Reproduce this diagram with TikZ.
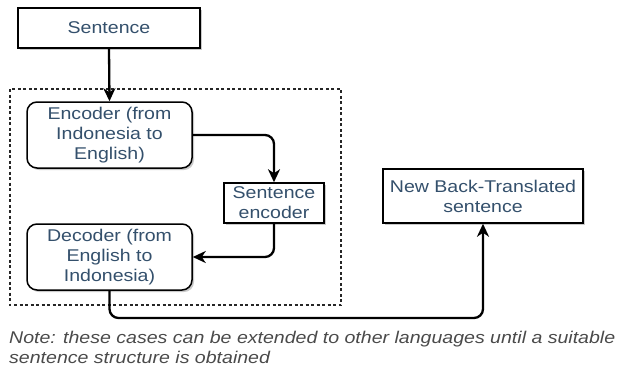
\documentclass[tikz,border=0pt]{standalone}
\usepackage{fontspec}
\setmainfont{Liberation Sans}[FakeStretch=1.15]
\usetikzlibrary{arrows.meta,shadows}
\definecolor{txt}{HTML}{34506C}
\definecolor{notec}{HTML}{4A4A4A}
\begin{document}
\begin{tikzpicture}[x=1pt,y=-1pt,
  box/.style={draw=black, line width=1.5pt, fill=white, text=txt, align=center,
    font=\fontsize{17}{20}\selectfont, inner sep=0pt,
    drop shadow={shadow xshift=2pt, shadow yshift=-2pt, opacity=0.35, fill=black!60}},
  rbox/.style={box, rounded corners=10pt},
  conn/.style={line width=2.3pt, rounded corners=9pt, -{Stealth[length=13pt,width=12pt,inset=4pt]}},
]
\useasboundingbox (0,0) rectangle (622,368);
\draw[line width=1.1pt, dashed, dash pattern=on 3pt off 2.5pt, black!85] (10,89) rectangle (341,305);
\node[box, minimum width=182pt, minimum height=40pt] (sent) at (109,28) {Sentence};
\node[rbox, minimum width=165pt, minimum height=66pt] (enc) at (109.5,135) {Encoder (from\\Indonesia to\\English)};
\node[box, minimum width=100pt, minimum height=40pt] (senc) at (274,203) {Sentence\\encoder};
\node[rbox, minimum width=165pt, minimum height=66pt] (dec) at (109.5,257) {Decoder (from\\English to\\Indonesia)};
\node[box, minimum width=200pt, minimum height=54pt] (nbt) at (483,196) {New Back-Translated\\sentence};
\coordinate (low) at (109.5,318);
\draw[conn] (sent.south) -- (enc.north);
\draw[conn] (enc.east) -| (senc.north);
\draw[conn] (senc.south) |- (dec.east);
\draw[conn] (dec.south) -- (low) -| (nbt.south);
\node[anchor=north west, align=left, inner sep=0pt, text=notec,
  font=\fontsize{17}{19.5}\selectfont\itshape] (note) at (9,331)
  {Note: these cases can be extended to other languages until a suitable\\sentence structure is obtained};
\end{tikzpicture}
\end{document}
